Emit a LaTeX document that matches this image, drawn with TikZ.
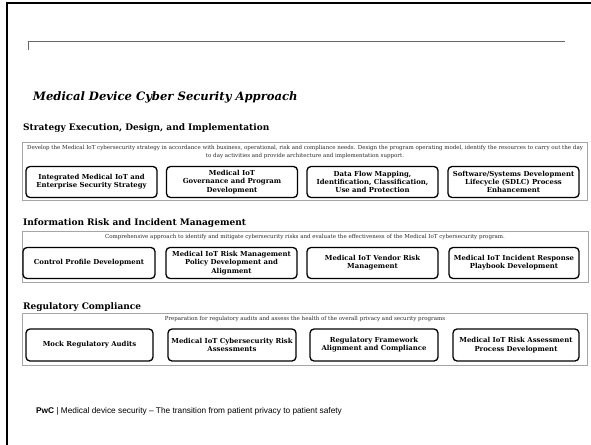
\documentclass[tikz,border=0pt]{standalone}
\usepackage{fontspec}
\setmainfont{DejaVu Serif}
\setsansfont{Liberation Sans}
\tikzset{
  frame/.style={line width=2pt, black},
  panel/.style={draw=black!35, line width=0.6pt},
  item/.style={draw=black, line width=1.3pt, rounded corners=4pt, align=center,
    font=\fontsize{6.9}{8.2}\selectfont\bfseries, inner sep=0pt},
  heading/.style={anchor=west, font=\fontsize{9}{11}\selectfont\bfseries, inner sep=0pt},
  blurb/.style={align=center, font=\fontsize{5.5}{7.8}\selectfont, inner sep=0pt, text=black!85},
}
\begin{document}
\begin{tikzpicture}[x=1pt, y=-1pt]
\useasboundingbox (0,0) rectangle (591,444);
% slide frame
\draw[frame] (7,445) -- (7,3) -- (592,3);
% header rule
\draw[black!60, line width=1pt] (28.5,50) -- (28.5,42) -- (565,42);
% title
\node[anchor=west, inner sep=0pt, font=\fontsize{11.6}{14}\selectfont\bfseries\itshape] (title) at (33,97) {Medical Device Cyber Security Approach};

% ---- Strategy section
\node[heading] (h1) at (23,128) {Strategy Execution, Design, and Implementation};
\draw[panel] (22,142) rectangle (587,200);
\node[blurb] (d1) at (305,152) {Develop the Medical IoT cybersecurity strategy in accordance with business, operational, risk and compliance needs. Design the program operating model, identify the resources to carry out the day\\to day activities and provide architecture and implementation support.};
\node[item, minimum width=131pt, minimum height=31pt] (s1) at (91.5,182) {Integrated Medical IoT and\\Enterprise Security Strategy};
\node[item, minimum width=131pt, minimum height=31pt] (s2) at (232,182) {Medical IoT\\Governance and Program\\Development};
\node[item, minimum width=131pt, minimum height=31pt] (s3) at (372.5,182) {Data Flow Mapping,\\Identification, Classification,\\Use and Protection};
\node[item, minimum width=131pt, minimum height=31pt] (s4) at (513.5,182) {Software/Systems Development\\Lifecycle (SDLC) Process\\Enhancement};

% ---- Risk section
\node[heading] (h2) at (23,223) {Information Risk and Incident Management};
\draw[panel] (22,231) rectangle (588,282);
\node[blurb] (d2) at (305,237.5) {Comprehensive approach to identify and mitigate cybersecurity risks and evaluate the effectiveness of the Medical IoT cybersecurity program.};
\node[item, minimum width=132pt, minimum height=31pt] (r1) at (89,263) {Control Profile Development};
\node[item, minimum width=131pt, minimum height=31pt] (r2) at (231.5,263) {Medical IoT Risk Management\\Policy Development and\\Alignment};
\node[item, minimum width=131pt, minimum height=31pt] (r3) at (372.5,263) {Medical IoT Vendor Risk\\Management};
\node[item, minimum width=130pt, minimum height=31pt] (r4) at (514,263) {Medical IoT Incident Response\\Playbook Development};

% ---- Compliance section
\node[heading] (h3) at (23,307) {Regulatory Compliance};
\draw[panel] (22,313) rectangle (587,365);
\node[blurb] (d3) at (305,319.5) {Preparation for regulatory audits and assess the health of the overall privacy and security programs};
\node[item, minimum width=127pt, minimum height=32pt] (c1) at (89.5,345) {Mock Regulatory Audits};
\node[item, minimum width=128pt, minimum height=32pt] (c2) at (232,345) {Medical IoT Cybersecurity Risk\\Assessments};
\node[item, minimum width=128pt, minimum height=32pt] (c3) at (374,345) {Regulatory Framework\\Alignment and Compliance};
\node[item, minimum width=126pt, minimum height=32pt] (c4) at (516,345) {Medical IoT Risk Assessment\\Process Development};

% footer
\node[anchor=west, inner sep=0pt, font=\sffamily\fontsize{8.3}{9}\selectfont] (foot) at (36,411) {\textbf{PwC} | Medical device security -- The transition from patient privacy to patient safety};
\end{tikzpicture}
\end{document}
